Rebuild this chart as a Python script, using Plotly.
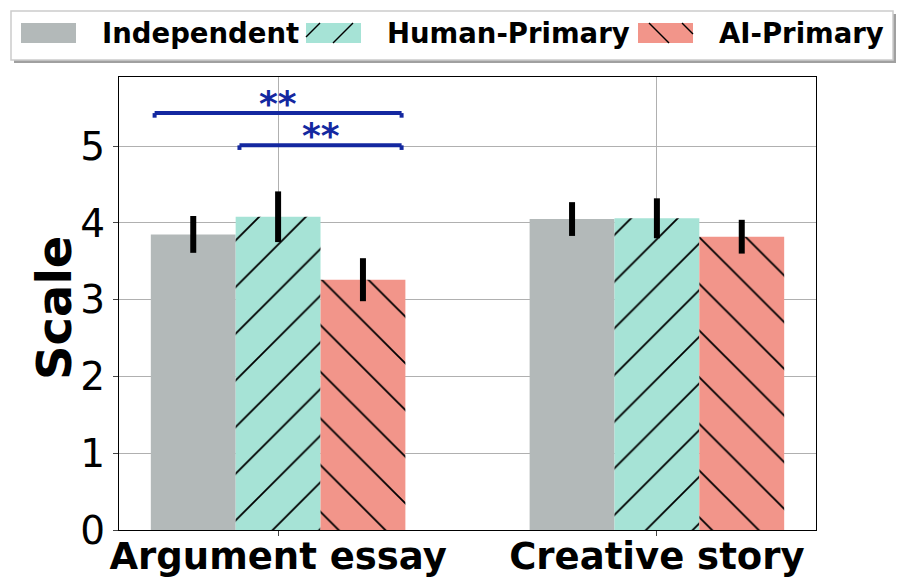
import plotly.graph_objects as go

# data
categories = ["Argument essay", "Creative story"]
groups = ["Independent", "Human-Primary", "AI-Primary"]
means = {
    "Independent": [3.85, 4.05],
    "Human-Primary": [4.08, 4.06],
    "AI-Primary": [3.26, 3.82],
}
errs = {
    "Independent": [0.24, 0.22],
    "Human-Primary": [0.33, 0.26],
    "AI-Primary": [0.28, 0.22],
}
colors = {"Independent": "#b3b9b9", "Human-Primary": "#a6e3d6", "AI-Primary": "#f2958a"}
hatches = {"Independent": "", "Human-Primary": "/", "AI-Primary": "\\"}

# significance brackets: (left bar index, right bar index, y, label)
sig_pairs = [(0, 2, 5.43, "**"), (1, 2, 5.01, "**")]
sig_color = "#1428a0"

FONT = "DejaVu Sans"
bar_w = 0.224
W, H = 903, 586
L, R, T, B = 119, 87, 77, 56


def px(x, y):
    # pixel position -> paper coords
    return (x - L) / (W - L - R), (H - B - y) / (H - T - B)


fig = go.Figure()
for g in groups:
    fig.add_trace(go.Bar(
        name=g,
        x=categories,
        y=means[g],
        showlegend=False,
        marker=dict(
            color=colors[g],
            line=dict(width=0),
            pattern=dict(shape=hatches[g], fgcolor="black", fgopacity=1, bgcolor=colors[g],
                         size=33, solidity=0.055, fillmode="replace"),
        ),
        error_y=dict(type="data", array=errs[g], thickness=6, width=0, color="black"),
    ))

# brackets over the first category
line_style = dict(color=sig_color, width=4)
for i, j, y, label in sig_pairs:
    x0 = (i - 1) * bar_w - bar_w / 2 + 0.01
    x1 = (j - 1) * bar_w + bar_w / 2 - 0.01
    fig.add_shape(type="line", xref="x", yref="y", x0=x0, x1=x1, y0=y, y1=y, line=line_style)
    fig.add_shape(type="line", xref="x", yref="y", x0=x0, x1=x0, y0=y, y1=y - 0.06, line=line_style)
    fig.add_shape(type="line", xref="x", yref="y", x0=x1, x1=x1, y0=y, y1=y - 0.06, line=line_style)
    fig.add_annotation(x=(x0 + x1) / 2, y=y, xref="x", yref="y", text=f"<b>{label}</b>",
                       showarrow=False, yanchor="bottom", yshift=-13,
                       font=dict(family=FONT, size=36, color=sig_color))

# legend drawn by hand (matplotlib style: wide swatches, shadowed frame)
def rect(x0, y0, x1, y1, **kw):
    a, b = px(x0, y1)
    c, d = px(x1, y0)
    fig.add_shape(type="rect", xref="paper", yref="paper", x0=a, y0=b, x1=c, y1=d, **kw)


rect(14, 14, 896, 63, fillcolor="#a0a0a0", line=dict(width=0))
rect(11, 11, 893, 60, fillcolor="white", line=dict(color="#cccccc", width=1.5))

legend_pos = {"Independent": (21, 100), "Human-Primary": (306, 385), "AI-Primary": (638, 717)}
sw_w, sw_y0, sw_y1 = 55, 23, 43
for g in groups:
    sx, tx = legend_pos[g]
    rect(sx, sw_y0, sx + sw_w, sw_y1, fillcolor=colors[g], line=dict(width=0))
    # hatch lines clipped to the swatch
    if hatches[g]:
        sign = 1 if hatches[g] == "/" else -1
        start = sx + (sw_y0 + 14 if sign == 1 else -sw_y0 - 22)
        for k in range(-1, 3):
            c = start + 33 * k
            segs = []
            for yy in (sw_y0, sw_y1):
                xx = c - yy if sign == 1 else c + yy
                segs.append((xx, yy))
            (xa, ya), (xb, yb) = segs
            pts = []
            for t in [i / 200 for i in range(201)]:
                xx, yy = xa + (xb - xa) * t, ya + (yb - ya) * t
                if sx <= xx <= sx + sw_w:
                    pts.append((xx, yy))
            if len(pts) > 1:
                p0, p1 = px(*pts[0]), px(*pts[-1])
                fig.add_shape(type="line", xref="paper", yref="paper",
                              x0=p0[0], y0=p0[1], x1=p1[0], y1=p1[1],
                              line=dict(color="black", width=1.4))
    lx, ly = px(tx, 33)
    fig.add_annotation(x=lx, y=ly, xref="paper", yref="paper", text=f"<b>{g}</b>",
                       showarrow=False, xanchor="left", yanchor="middle",
                       font=dict(family=FONT, size=27.5, color="black"))

# y axis title placed by hand
tx, ty = px(54, 308)
fig.add_annotation(x=tx, y=ty, xref="paper", yref="paper", text="<b>Scale</b>",
                   textangle=-90, showarrow=False, xanchor="center", yanchor="middle",
                   font=dict(family=FONT, size=48, color="black"))

fig.update_layout(
    width=W, height=H,
    margin=dict(l=L, r=R, t=T, b=B, autoexpand=False),
    plot_bgcolor="white", paper_bgcolor="white",
    barmode="group", bargap=0.328, bargroupgap=0,
    font=dict(family=FONT, color="black"),
    showlegend=False,
    xaxis=dict(range=[-0.42, 1.42], showgrid=True, gridcolor="#b0b0b0", gridwidth=1,
               showline=True, linecolor="black", linewidth=1.2, mirror=True,
               tickfont=dict(family=FONT, size=37, weight="bold"), ticks="outside",
               ticklen=5, tickangle=0, ticklabelstandoff=-12, automargin=False),
    yaxis=dict(range=[0, 5.9], dtick=1, showgrid=True, gridcolor="#b0b0b0", gridwidth=1,
               showline=True, linecolor="black", linewidth=1.2, mirror=True,
               ticks="outside", ticklen=5, tickfont=dict(family=FONT, size=39),
               zeroline=False, automargin=False),
)

fig.write_html("out.html", config={"displayModeBar": False},
               post_script="document.body.style.margin='0';")
